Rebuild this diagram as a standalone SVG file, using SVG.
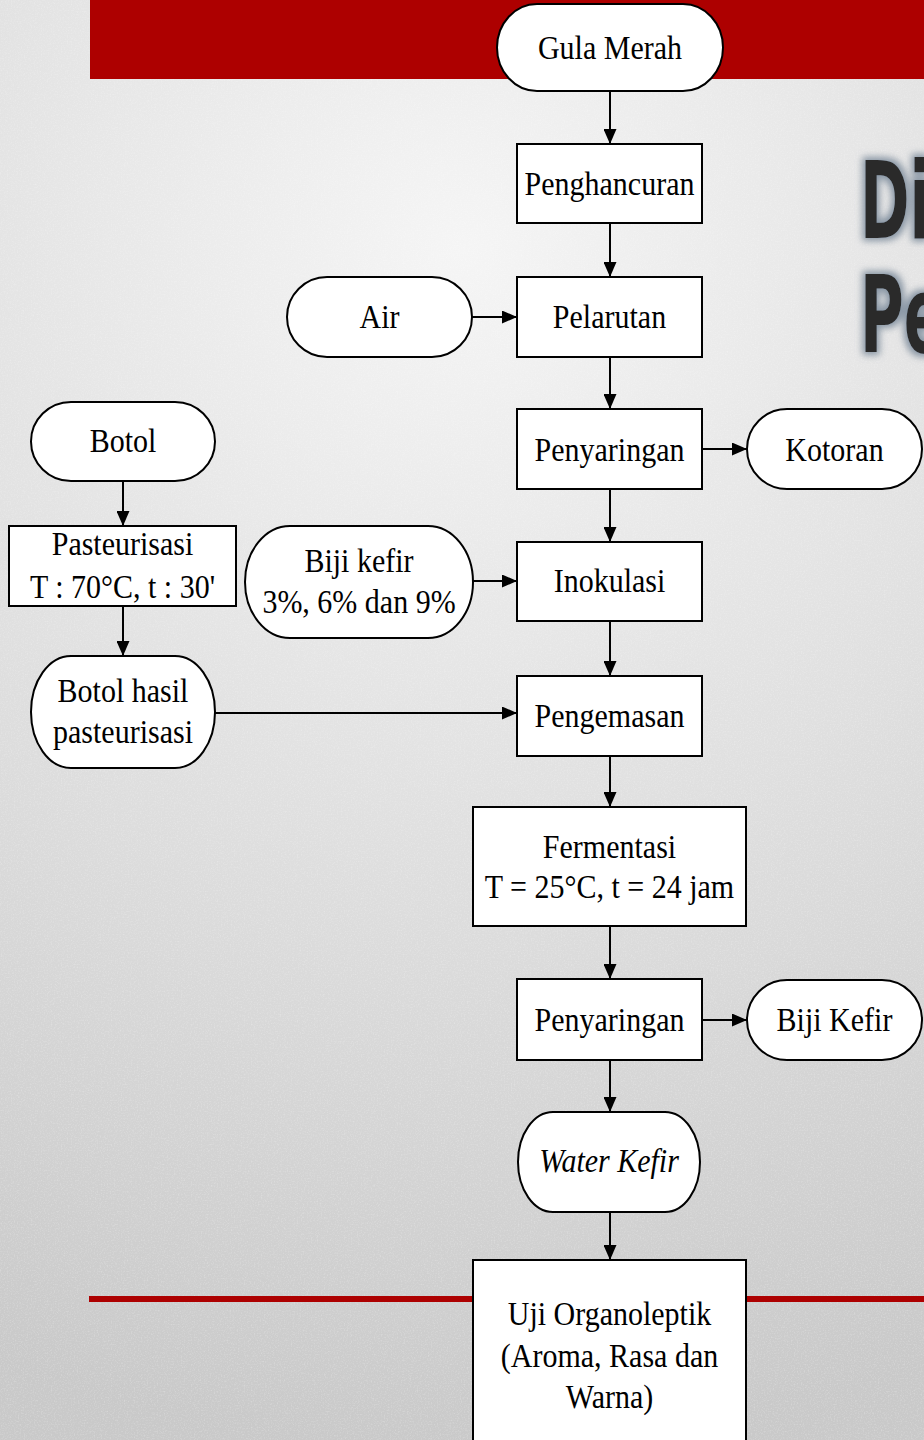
<svg xmlns="http://www.w3.org/2000/svg" width="924" height="1440" viewBox="0 0 924 1440">
<defs>
<radialGradient id="bg" gradientUnits="userSpaceOnUse" cx="462" cy="250" r="1200">
<stop offset="0" stop-color="#f5f5f5"/>
<stop offset="0.55" stop-color="#dddddd"/>
<stop offset="1" stop-color="#c9c9c9"/>
</radialGradient>
<filter id="noise" x="0" y="0" width="100%" height="100%">
<feTurbulence type="fractalNoise" baseFrequency="0.7" numOctaves="2" seed="3"/>
<feColorMatrix type="matrix" values="0 0 0 0 1  0 0 0 0 1  0 0 0 0 1  0 0 1.6 0 -0.75"/>
</filter>
<filter id="glow" x="-20%" y="-20%" width="140%" height="140%">
<feMorphology in="SourceAlpha" operator="dilate" radius="3" result="d"/>
<feGaussianBlur in="d" stdDeviation="3.5" result="b"/>
<feFlood flood-color="#7d8c9c" flood-opacity="0.9"/>
<feComposite in2="b" operator="in" result="g"/>
<feMerge><feMergeNode in="g"/><feMergeNode in="SourceGraphic"/></feMerge>
</filter>
<marker id="ah" viewBox="0 0 15 13" markerWidth="15" markerHeight="13" refX="15" refY="6.5" orient="auto" markerUnits="userSpaceOnUse">
<path d="M0,0 L15,6.5 L0,13 z" fill="#000"/>
</marker>
</defs>
<style>
.box{fill:#fff;stroke:#000;stroke-width:2}
.t{font-family:"Liberation Serif","Times New Roman",serif;font-size:30px;fill:#000;text-anchor:middle}
.it{font-style:italic}
.c{fill:none;stroke:#000;stroke-width:2;marker-end:url(#ah)}
.title{font-family:"DejaVu Sans Condensed","DejaVu Sans",sans-serif;font-weight:bold;font-size:107px;fill:#2a2a2a}
</style>
<rect x="0" y="0" width="924" height="1440" fill="url(#bg)"/>
<rect x="0" y="0" width="924" height="1440" filter="url(#noise)" opacity="0.35"/>
<rect x="90" y="0" width="834" height="79" fill="#ad0000"/>
<rect x="89" y="1296" width="835" height="6" fill="#ad0000"/>
<g id="title" filter="url(#glow)">
<text class="title" transform="translate(860,238) scale(0.62,1)">Di</text>
<text class="title" transform="translate(860,352) scale(0.62,1)">Pe</text>
</g>
<g id="connectors">
<line class="c" x1="610" y1="91" x2="610" y2="144"/>
<line class="c" x1="610" y1="223" x2="610" y2="277"/>
<line class="c" x1="472" y1="317" x2="517" y2="317"/>
<line class="c" x1="610" y1="357" x2="610" y2="409"/>
<line class="c" x1="702" y1="449" x2="747" y2="449"/>
<line class="c" x1="610" y1="489" x2="610" y2="542"/>
<line class="c" x1="473" y1="581" x2="517" y2="581"/>
<line class="c" x1="610" y1="621" x2="610" y2="676"/>
<line class="c" x1="123" y1="481" x2="123" y2="526"/>
<line class="c" x1="123" y1="606" x2="123" y2="656"/>
<line class="c" x1="215" y1="713" x2="517" y2="713"/>
<line class="c" x1="610" y1="756" x2="610" y2="807"/>
<line class="c" x1="610" y1="926" x2="610" y2="979"/>
<line class="c" x1="702" y1="1020" x2="747" y2="1020"/>
<line class="c" x1="610" y1="1060" x2="610" y2="1112"/>
<line class="c" x1="610" y1="1212" x2="610" y2="1260"/>
</g>
<g id="gula-merah">
<rect class="box" x="497" y="4" width="226" height="87" rx="40" ry="43.5"/>
<text class="t" transform="translate(610,59) scale(1,1.12)">Gula Merah</text>
</g>
<g id="penghancuran">
<rect class="box" x="517" y="144" width="185" height="79"/>
<text class="t" transform="translate(609.5,195) scale(1,1.12)">Penghancuran</text>
</g>
<g id="air">
<rect class="box" x="287" y="277" width="185" height="80" rx="40" ry="40"/>
<text class="t" transform="translate(379.5,328) scale(1,1.12)">Air</text>
</g>
<g id="pelarutan">
<rect class="box" x="517" y="277" width="185" height="80"/>
<text class="t" transform="translate(609.5,328) scale(1,1.12)">Pelarutan</text>
</g>
<g id="penyaringan-1">
<rect class="box" x="517" y="409" width="185" height="80"/>
<text class="t" transform="translate(609.5,461) scale(1,1.12)">Penyaringan</text>
</g>
<g id="kotoran">
<rect class="box" x="747" y="409" width="175" height="80" rx="40" ry="40"/>
<text class="t" transform="translate(834.5,461) scale(1,1.12)">Kotoran</text>
</g>
<g id="botol">
<rect class="box" x="31" y="402" width="184" height="79" rx="40" ry="39.5"/>
<text class="t" transform="translate(123,452) scale(1,1.12)">Botol</text>
</g>
<g id="pasteurisasi">
<rect class="box" x="9" y="526" width="227" height="80"/>
<text class="t" transform="translate(122.5,555) scale(1,1.12)"><tspan x="0" y="0">Pasteurisasi</tspan><tspan x="0" y="38.4">T : 70°C, t : 30'</tspan></text>
</g>
<g id="biji-kefir-input">
<rect class="box" x="245" y="526" width="228" height="112" rx="45" ry="56"/>
<text class="t" transform="translate(359,572) scale(1,1.12)"><tspan x="0" y="0">Biji kefir</tspan><tspan x="0" y="36.6">3%, 6% dan 9%</tspan></text>
</g>
<g id="inokulasi">
<rect class="box" x="517" y="542" width="185" height="79"/>
<text class="t" transform="translate(609.5,592) scale(1,1.12)">Inokulasi</text>
</g>
<g id="botol-hasil">
<rect class="box" x="31" y="656" width="184" height="112" rx="40" ry="56"/>
<text class="t" transform="translate(123,702) scale(1,1.12)"><tspan x="0" y="0">Botol hasil</tspan><tspan x="0" y="36.6">pasteurisasi</tspan></text>
</g>
<g id="pengemasan">
<rect class="box" x="517" y="676" width="185" height="80"/>
<text class="t" transform="translate(609.5,727) scale(1,1.12)">Pengemasan</text>
</g>
<g id="fermentasi">
<rect class="box" x="473" y="807" width="273" height="119"/>
<text class="t" transform="translate(609.5,858) scale(1,1.12)"><tspan x="0" y="0">Fermentasi</tspan><tspan x="0" y="35.7">T = 25°C, t = 24 jam</tspan></text>
</g>
<g id="penyaringan-2">
<rect class="box" x="517" y="979" width="185" height="81"/>
<text class="t" transform="translate(609.5,1031) scale(1,1.12)">Penyaringan</text>
</g>
<g id="biji-kefir-output">
<rect class="box" x="747" y="980" width="175" height="80" rx="40" ry="40"/>
<text class="t" transform="translate(834.5,1031) scale(1,1.12)">Biji Kefir</text>
</g>
<g id="water-kefir">
<rect class="box" x="518" y="1112" width="182" height="100" rx="35" ry="50"/>
<text class="t it" transform="translate(609,1172) scale(1,1.12)">Water Kefir</text>
</g>
<g id="uji-organoleptik">
<rect class="box" x="473" y="1260" width="273" height="200"/>
<text class="t" transform="translate(609.5,1325) scale(1,1.12)"><tspan x="0" y="0">Uji Organoleptik</tspan><tspan x="0" y="37.5">(Aroma, Rasa dan</tspan><tspan x="0" y="74.1">Warna)</tspan></text>
</g>
</svg>
